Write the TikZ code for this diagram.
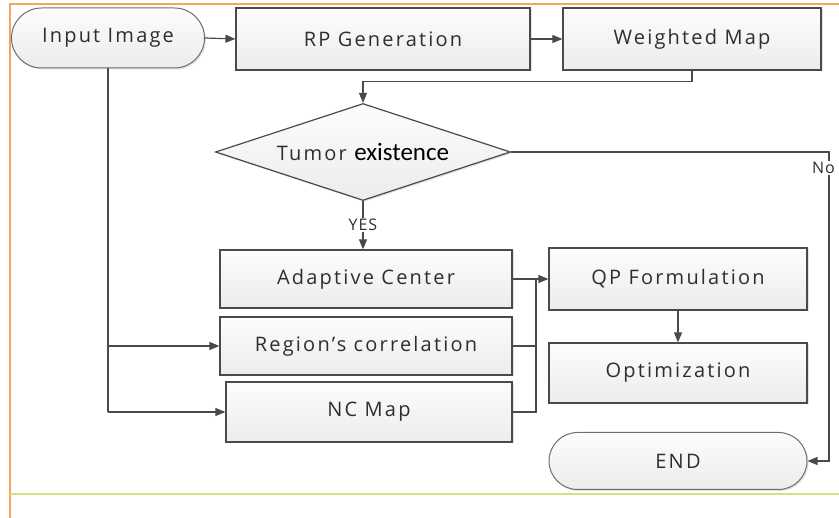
\documentclass[tikz,border=0pt]{standalone}
\usepackage{fontspec}
\setmainfont{Open Sans}
\newfontfamily\carl{Carlito}
\usetikzlibrary{arrows.meta,shapes.geometric,shapes.misc,shadows}
\definecolor{linegray}{HTML}{4A4A4A}
\definecolor{txtgray}{HTML}{2E2E2E}
\definecolor{frameorange}{HTML}{F2A65A}
\definecolor{frameyellow}{HTML}{D9DE86}
\tikzset{
  boxbase/.style={draw=linegray, line width=1.2pt, top color=gray!2, bottom color=gray!15,
    text=txtgray, font=\addfontfeature{LetterSpace=11}\fontsize{20}{22}\selectfont, inner sep=0pt,
    drop shadow={opacity=0.22, shadow xshift=1.5pt, shadow yshift=-1.5pt}},
  procbox/.style={boxbase, rectangle},
  termbox/.style={boxbase, rounded rectangle, draw=linegray!80, line width=1pt},
  decbox/.style={boxbase, diamond, shape aspect=3},
  conn/.style={draw=linegray, line width=1.2pt},
  arr/.style={conn, -{Triangle[length=10pt,width=8pt]}},
  lbl/.style={text=txtgray, font=\addfontfeature{LetterSpace=6}\fontsize{16}{18}\selectfont, fill=white, inner sep=1pt}
}
\begin{document}
\begin{tikzpicture}[x=1pt,y=-1pt]
\useasboundingbox (0,0) rectangle (839,518);
% frame
\draw[frameorange, line width=2pt] (10,518) -- (10,4) -- (839,4);
\draw[frameyellow, line width=2pt] (10,494) -- (839,494);
% nodes
\node[termbox, minimum width=193, minimum height=60] (in) at (108,38) {Input Image};
\node[procbox, minimum width=294, minimum height=62] (rp) at (383,39) {RP Generation};
\node[procbox, minimum width=258, minimum height=62] (wm) at (692,39) {Weighted Map};
\node[decbox, minimum width=295, minimum height=97] (dia) at (363,152)
  {Tumor {\carl\color{black}\fontsize{25}{26}\selectfont existence}};
\node[procbox, minimum width=292, minimum height=58] (ac) at (366,279) {Adaptive Center};
\node[procbox, minimum width=292, minimum height=58] (rc) at (366,346) {Region’s correlation};
\node[procbox, minimum width=286, minimum height=60] (nc) at (369,412) {NC Map};
\node[procbox, minimum width=258, minimum height=62] (qp) at (678,279) {QP Formulation};
\node[procbox, minimum width=258, minimum height=60] (opt) at (678,373) {Optimization};
\node[termbox, minimum width=258, minimum height=57] (end) at (678,461) {END};
% connectors
\draw[arr] (in.east) -- (rp.west);
\draw[arr] (rp.east) -- (wm.west);
\draw[arr] (wm.south) -- ++(0,11) -| (dia.north);
\draw[arr] (dia.south) -- node[lbl, pos=0.5] {YES} (dia.south |- ac.north);
\coordinate (lbus) at (in.south |- nc.west);
\draw[conn] (in.south) -- (lbus);
\draw[arr] (in.south |- rc.west) -- (rc.west);
\draw[arr] (lbus) -- (nc.west);
\coordinate (rbus) at (536,279);
\draw[conn] (ac.east) -- (rbus);
\draw[conn] (rc.east) -| (rbus);
\draw[conn] (nc.east) -| (rbus);
\draw[arr] (rbus) -- (qp.west);
\draw[arr] (qp.south) -- (opt.north);
\coordinate (nocorner) at (829,152);
\draw[arr] (dia.east) -- (nocorner) |- (end.east);
\node[lbl, anchor=west] (nolbl) at (811,168) {No};
\end{tikzpicture}
\end{document}
